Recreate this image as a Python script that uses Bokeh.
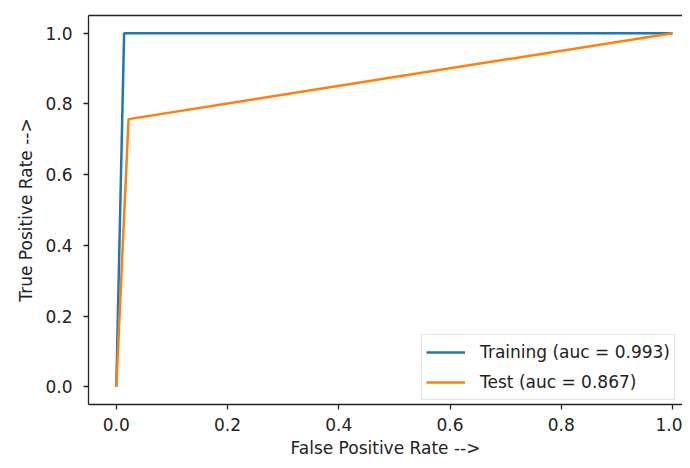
from bokeh.plotting import figure
from bokeh.models import Range1d, LinearAxis, FixedTicker, Legend, LegendItem
from bokeh.embed import file_html
from bokeh.resources import INLINE

# ROC curve points
train_fpr = [0.0, 0.014, 1.0]
train_tpr = [0.0, 1.0, 1.0]
test_fpr = [0.0, 0.022, 1.0]
test_tpr = [0.0, 0.757, 1.0]
train_label = "Training (auc = 0.993)"
test_label = "Test (auc = 0.867)"
ticks = [0.0, 0.2, 0.4, 0.6, 0.8, 1.0]

FONT = "DejaVu Sans"
FS = "17px"

p = figure(width=682, height=460, output_backend="svg", toolbar_location=None,
           x_range=Range1d(-0.05, 1.018), y_range=Range1d(-0.05, 1.05),
           min_border_left=88, min_border_right=0, min_border_top=15, min_border_bottom=50)
p.outline_line_color = None
p.xgrid.visible = False
p.ygrid.visible = False
p.background_fill_color = "white"
p.border_fill_color = "white"

r1 = p.line(train_fpr, train_tpr, line_color="#1f77b4", line_width=2.5)
r2 = p.line(test_fpr, test_tpr, line_color="#ff7f0e", line_width=2.5)

for ax in (p.xaxis[0], p.yaxis[0]):
    ax.ticker = FixedTicker(ticks=ticks)
    ax.major_label_overrides = {t: f"{t:.1f}" for t in ticks}
    ax.minor_tick_line_color = None
    ax.major_tick_in = 0
    ax.major_tick_out = 5
    ax.major_tick_line_color = "#222222"
    ax.major_tick_line_width = 1.3
    ax.axis_line_color = "#222222"
    ax.axis_line_width = 1.3
    ax.major_label_text_font = FONT
    ax.major_label_text_font_size = FS
    ax.major_label_text_color = "#222222"
    ax.axis_label_text_font = FONT
    ax.axis_label_text_font_size = FS
    ax.axis_label_text_font_style = "normal"
    ax.axis_label_text_color = "#222222"

p.xaxis.axis_label = "False Positive Rate -->"
p.yaxis.axis_label = "True Positive Rate -->"
p.yaxis.major_label_orientation = "horizontal"
p.xaxis.major_label_standoff = 8
p.yaxis.major_label_standoff = 11
p.xaxis.axis_label_standoff = 4
p.yaxis.axis_label_standoff = 6

top = LinearAxis(ticker=FixedTicker(ticks=[]), axis_line_color="#222222", axis_line_width=1.3,
                 major_tick_line_color=None, minor_tick_line_color=None,
                 major_label_text_font_size="0px")
p.add_layout(top, "above")

legend = Legend(items=[LegendItem(label=train_label, renderers=[r1]),
                       LegendItem(label=test_label, renderers=[r2])],
                location=(333, 4), margin=0, padding=4, spacing=4,
                glyph_width=39, glyph_height=26, label_height=26, label_standoff=15,
                label_text_font=FONT, label_text_font_size=FS, label_text_color="#222222",
                border_line_color="#cccccc", border_line_width=1.3,
                background_fill_alpha=0.9)
p.add_layout(legend, "center")

open("out.html", "w").write(file_html(p, INLINE))
